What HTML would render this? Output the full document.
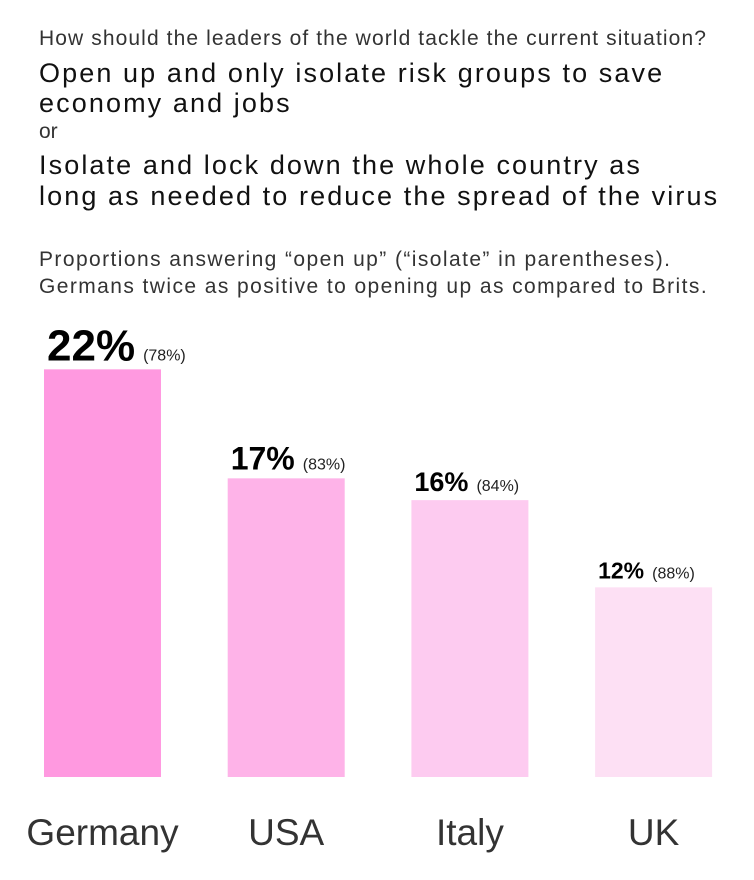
<!DOCTYPE html>
<html><head><meta charset="utf-8"><style>
body{margin:0;width:754px;height:880px;background:#fff;font-family:"Liberation Sans",sans-serif;position:relative;overflow:hidden}
.t{position:absolute;left:39px;white-space:nowrap;color:#222}
</style></head><body>
<div class="t" style="top:27px;font-size:21px;letter-spacing:1.1px;color:#333">How should the leaders of the world tackle the current situation?</div>
<div class="t" style="top:58px;font-size:27px;line-height:30px;letter-spacing:2.1px;color:#111">Open up and only isolate risk groups to save<br>economy and jobs</div>
<div class="t" style="top:120px;font-size:21px;color:#333">or</div>
<div class="t" style="top:150px;font-size:27px;line-height:31px;letter-spacing:2.1px;color:#111">Isolate and lock down the whole country as<br>long as needed to reduce the spread of the virus</div>
<div class="t" style="top:246px;font-size:21px;line-height:27px;letter-spacing:1.42px;color:#333">Proportions answering “open up” (“isolate” in parentheses).<br>Germans twice as positive to opening up as compared to Brits.</div>
<svg id="chart" width="754" height="880" style="position:absolute;left:0;top:0"></svg>
<script>
const categories=["Germany","USA","Italy","UK"];
const openUp=[22,17,16,12];
const isolate=[78,83,84,88];
const colors=["#ff99e0","#feb3e8","#fdcbf0","#fde0f4"];
const labelSizes=[44,32,27,23];
const svg=document.getElementById('chart');
const NS="http://www.w3.org/2000/svg";
const base=777, pxPer=21.8, dMin=3.3;
function y(v){return base-(v-dMin)*pxPer;}
function x(i){return 44+i*183.7;}
const bw=117;
openUp.forEach((v,i)=>{
  const r=document.createElementNS(NS,'rect');
  
  
  r.setAttribute('x',x(i));r.setAttribute('y',y(v));r.setAttribute('width',bw);r.setAttribute('height',base-y(v));r.setAttribute('fill',colors[i]);
  svg.appendChild(r);
  const t=document.createElementNS(NS,'text');
  
  
  t.setAttribute('x',x(i)+3);t.setAttribute('y',y(v)-9);
  t.setAttribute('font-family','"Liberation Sans",sans-serif');
  const a=document.createElementNS(NS,'tspan');
  a.setAttribute('font-size',labelSizes[i]);a.setAttribute('font-weight','bold');a.setAttribute('fill','#000');
  a.textContent=v+'%';
  const b=document.createElementNS(NS,'tspan');
  b.setAttribute('font-size',16);b.setAttribute('fill','#222');b.setAttribute('dx',8);
  b.textContent='('+isolate[i]+'%)';
  t.appendChild(a);t.appendChild(b);svg.appendChild(t);
  const c=document.createElementNS(NS,'text');
  
  
  c.setAttribute('x',x(i)+bw/2);c.setAttribute('y',845);c.setAttribute('text-anchor','middle');
  c.setAttribute('font-size',37);c.setAttribute('fill','#333');c.setAttribute('font-family','"Liberation Sans",sans-serif');
  c.textContent=categories[i];svg.appendChild(c);
});
</script>
</body></html>
